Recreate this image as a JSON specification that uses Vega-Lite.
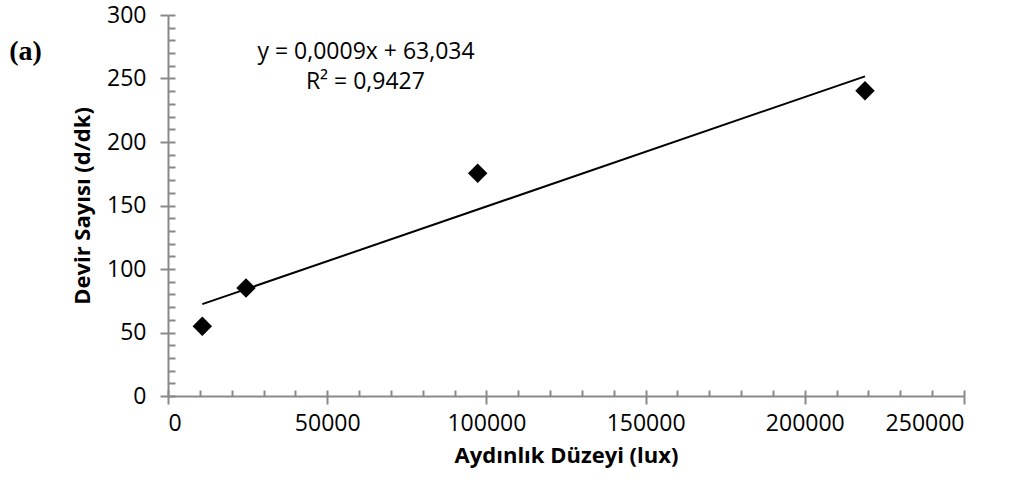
{
  "$schema": "https://vega.github.io/schema/vega-lite/v6.json",
  "width": 796,
  "height": 381,
  "autosize": {"type": "none"},
  "padding": {"left": 168, "top": 15, "right": 45, "bottom": 90},
  "background": "white",
  "config": {"view": {"stroke": null}, "font": "Open Sans"},
  "datasets": {
    "points": [
      {"lux": 10770, "devir": 55},
      {"lux": 24500, "devir": 85},
      {"lux": 97260, "devir": 175.4},
      {"lux": 218900, "devir": 240.4}
    ],
    "trend": [
      {"lux": 10770, "devir": 72.3},
      {"lux": 218900, "devir": 251.7}
    ],
    "eq": [
      {"lux": 62200, "devir": 270.8, "label": "y = 0,0009x + 63,034"},
      {"lux": 62000, "devir": 247.2, "label": "R² = 0,9427"}
    ],
    "tag": [
      {"lux": -44750, "devir": 270.8, "label": "(a)"}
    ]
  },
  "resolve": {"axis": {"x": "independent", "y": "independent"}},
  "layer": [
    {
      "data": {"name": "trend"},
      "mark": {"type": "line", "color": "black", "strokeWidth": 2},
      "encoding": {
        "x": {"field": "lux", "type": "quantitative",
          "scale": {"domain": [0, 250000], "nice": false, "zero": false},
          "axis": {"orient": "bottom", "values": [0,10000,20000,30000,40000,50000,60000,70000,80000,90000,100000,110000,120000,130000,140000,150000,160000,170000,180000,190000,200000,210000,220000,230000,240000,250000],
            "labels": false, "domain": false, "grid": false, "title": null, "tickSize": -6, "tickColor": "#898989", "tickWidth": 2}},
        "y": {"field": "devir", "type": "quantitative",
          "scale": {"domain": [0, 300], "nice": false, "zero": false},
          "axis": {"orient": "left", "values": [0,10,20,30,40,50,60,70,80,90,100,110,120,130,140,150,160,170,180,190,200,210,220,230,240,250,260,270,280,290,300],
            "labels": false, "domain": false, "grid": false, "title": null, "tickSize": -7, "tickColor": "#898989", "tickWidth": 2}}
      }
    },
    {
      "data": {"name": "points"},
      "mark": {"type": "point", "shape": "diamond", "filled": true, "color": "black", "size": 380, "opacity": 1},
      "encoding": {
        "x": {"field": "lux", "type": "quantitative",
          "axis": {"orient": "bottom", "values": [0, 50000, 100000, 150000, 200000, 250000], "format": "d",
            "grid": false, "title": "Aydınlık Düzeyi (lux)", "titleFontSize": 22, "titleFontWeight": "bold", "titleColor": "black",
            "titlePadding": 10, "labelFontSize": 23, "labelColor": "black", "labelPadding": 8, "tickSize": 8,
            "tickColor": "#898989", "tickWidth": 2, "domainColor": "#898989", "domainWidth": 2}},
        "y": {"field": "devir", "type": "quantitative",
          "axis": {"orient": "left", "values": [0, 50, 100, 150, 200, 250, 300],
            "grid": false, "title": "Devir Sayısı (d/dk)", "titleFontSize": 22, "titleFontWeight": "bold", "titleColor": "black",
            "titlePadding": 12, "labelFontSize": 23, "labelColor": "black", "labelPadding": 14, "tickSize": 8,
            "tickColor": "#898989", "tickWidth": 2, "domainColor": "#898989", "domainWidth": 2}}
      }
    },
    {
      "data": {"name": "eq"},
      "mark": {"type": "text", "fontSize": 23, "color": "black", "align": "center", "baseline": "middle"},
      "encoding": {
        "x": {"field": "lux", "type": "quantitative", "axis": null},
        "y": {"field": "devir", "type": "quantitative", "axis": null},
        "text": {"field": "label"}
      }
    },
    {
      "data": {"name": "tag"},
      "mark": {"type": "text", "fontSize": 28, "font": "Liberation Serif", "fontWeight": "bold", "color": "black", "align": "center", "baseline": "middle"},
      "encoding": {
        "x": {"field": "lux", "type": "quantitative", "axis": null},
        "y": {"field": "devir", "type": "quantitative", "axis": null},
        "text": {"field": "label"}
      }
    }
  ]
}
